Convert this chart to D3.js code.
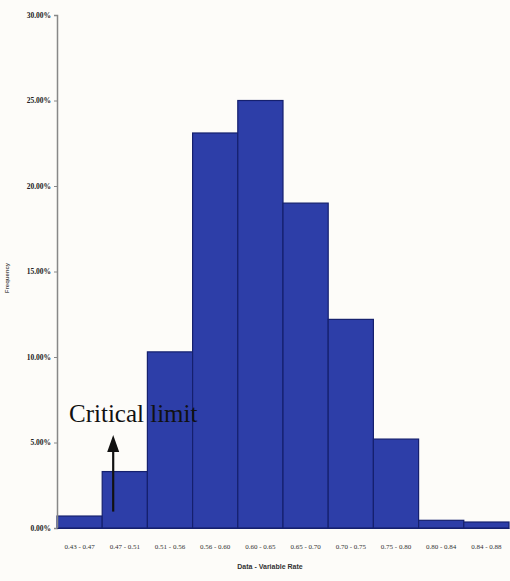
<!DOCTYPE html>
<html><head><meta charset="utf-8">
<script src="https://cdn.jsdelivr.net/npm/d3@7"></script>
<style>body{margin:0;background:#fdfcf9;}svg{display:block;}</style>
</head><body>
<script>
const categories = ["0.43 - 0.47","0.47 - 0.51","0.51 - 0.56","0.56 - 0.60","0.60 - 0.65","0.65 - 0.70","0.70 - 0.75","0.75 - 0.80","0.80 - 0.84","0.84 - 0.88"];
const values = [0.7, 3.3, 10.3, 23.1, 25.0, 19.0, 12.2, 5.2, 0.45, 0.35];
const yTicks = [0,5,10,15,20,25,30];
const annotationText = "Critical limit";
const annotationCategory = "0.47 - 0.51";
const xTitle = "Data - Variable Rate";
const yTitle = "Frequency";

const W = 510, H = 581;
const svg = d3.select("body").append("svg").attr("width", W).attr("height", H);
const m = {left:57, right:1, top:15, bottom:53};
const x = d3.scaleBand().domain(categories).range([m.left, W - m.right]).padding(0);
const y = d3.scaleLinear().domain([0,30]).range([H - m.bottom, m.top]);

// bars
svg.append("g").selectAll("rect").data(values).join("rect")
  .attr("x", (d,i)=>x(categories[i]))
  .attr("y", d=>y(d))
  .attr("width", x.bandwidth())
  .attr("height", d=>y(0)-y(d))
  .attr("fill", "#2d3ea8")
  .attr("stroke", "#15206e")
  .attr("stroke-width", 1.2);

// y axis
const ya = svg.append("g").attr("transform", `translate(${m.left},0)`)
  .call(d3.axisLeft(y).tickValues(yTicks).tickSize(3).tickFormat(d=>d.toFixed(2)+"%"));
ya.select(".domain").attr("stroke","#888").attr("stroke-width",1.5);
ya.selectAll(".tick line").attr("stroke","#888");
ya.selectAll("text").attr("font-family","Liberation Serif").attr("font-size",7.5).attr("font-weight","bold").attr("fill","#222");

// x axis
const xa = svg.append("g").attr("transform", `translate(0,${y(0)})`)
  .call(d3.axisBottom(x).tickSize(0).tickPadding(16));
xa.select(".domain").attr("stroke","#15206e").attr("stroke-width",1.2);
xa.selectAll("text").attr("font-family","Liberation Serif").attr("font-size",7).attr("fill","#333");

// titles
svg.append("text").attr("x", 270).attr("y", 569).attr("text-anchor","middle")
  .attr("font-family","Liberation Sans").attr("font-size",7).attr("font-weight","bold").attr("fill","#333").text(xTitle);
svg.append("text").attr("transform","translate(9,278) rotate(-90)").attr("text-anchor","middle")
  .attr("font-family","Liberation Sans").attr("font-size",6).attr("font-weight","bold").attr("fill","#555").text(yTitle);

// annotation arrow
const ax = x(annotationCategory) + 11;
svg.append("line").attr("x1",ax).attr("x2",ax).attr("y1",y(values[1])+40).attr("y2",440)
  .attr("stroke","#111").attr("stroke-width",2.2);
svg.append("path").attr("d",`M${ax-6},${452} L${ax},${435} L${ax+6},${452} Z`).attr("fill","#111");
svg.append("text").attr("x",69).attr("y",422).attr("font-family","Liberation Serif").attr("font-size",25)
  .attr("fill","#111").text(annotationText);
</script>
</body></html>
